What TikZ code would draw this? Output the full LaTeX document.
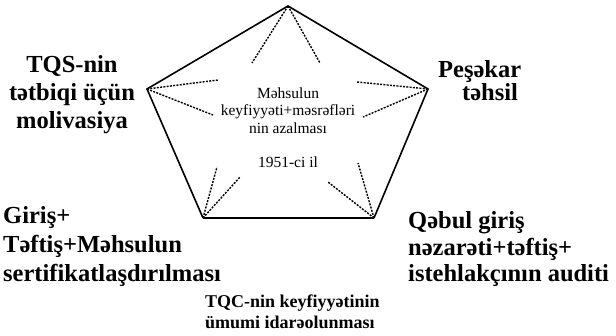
\documentclass[tikz,border=0pt]{standalone}
\usepackage{fontspec}
\setmainfont{Liberation Serif}
\usepackage{tikz}
\usetikzlibrary{calc}
\definecolor{ink}{HTML}{000000}
\definecolor{paper}{HTML}{FFFFFF}
\tikzset{
  rimline/.style={draw=ink,line width=1.6pt,line join=miter},
  footline/.style={draw=ink,line width=2.3pt},
  rayline/.style={draw=ink,line width=1.4pt,dash pattern=on 2pt off 1.3pt},
  biglabel/.style={inner sep=0pt,font=\bfseries\fontsize{24.5}{28}\selectfont},
  midlabel/.style={inner sep=0pt,align=left,font=\bfseries\fontsize{18}{21}\selectfont},
  corelabel/.style={inner sep=0pt,align=center,font=\fontsize{15.5}{17.4}\selectfont}
}
\begin{document}
\begin{tikzpicture}[x=1pt,y=-1pt]
  \fill[paper] (0,0) rectangle (616,336);
  \useasboundingbox (0,0) rectangle (616,336);

  % corners of the pentagon
  \coordinate (top) at (288,6);
  \coordinate (lft) at (147,89);
  \coordinate (rgt) at (428,89);
  \coordinate (bl) at (203,218);
  \coordinate (br) at (374,218);

  % inner ends of the dashed rays
  \coordinate (t1) at (252,63);  \coordinate (t2) at (320,63);
  \coordinate (l1) at (218,80);  \coordinate (l2) at (213,115);
  \coordinate (r1) at (357,82);  \coordinate (r2) at (363,117);
  \coordinate (b1) at (217,167); \coordinate (b2) at (240,177);
  \coordinate (c1) at (328,182); \coordinate (c2) at (358,163);

  \draw[rimline] (bl) -- (lft) -- (top) -- (rgt) -- (br);
  \draw[footline] (bl) -- (br);

  \foreach \v/\a/\b in {top/t1/t2,lft/l1/l2,rgt/r1/r2,bl/b1/b2,br/c1/c2}{
    \draw[rayline] (\v) -- (\a);
    \draw[rayline] (\v) -- (\b);
  }

  \node[corelabel,anchor=north] (core) at (288,87.4)
    {Məhsulun\\keyfiyyəti+məsrəfləri\\nin azalması\\[17.4pt]1951-ci il};

  \node[biglabel,align=center,anchor=north] (motiv) at (72,55.4)
    {TQS-nin\\tətbiqi üçün\\molivasiya};
  \node[biglabel,align=left,anchor=north west,font=\bfseries\fontsize{24.5}{23}\selectfont] (prof) at (438,60.4)
    {Peşəkar\\\hspace*{24pt}təhsil};
  \node[biglabel,align=left,anchor=north west,font=\bfseries\fontsize{24.5}{29}\selectfont] (cert) at (3,206.4)
    {Giriş+\\Təftiş+Məhsulun\\sertifikatlaşdırılması};
  \node[biglabel,align=left,anchor=north west,font=\bfseries\fontsize{24.5}{26.5}\selectfont] (audit) at (408,211.4)
    {Qəbul giriş\\nəzarəti+təftiş+\\istehlakçının auditi};
  \node[midlabel,anchor=north west] (tqc) at (205,294.7)
    {TQC-nin keyfiyyətinin\\ümumi idarəolunması};
\end{tikzpicture}
\end{document}
